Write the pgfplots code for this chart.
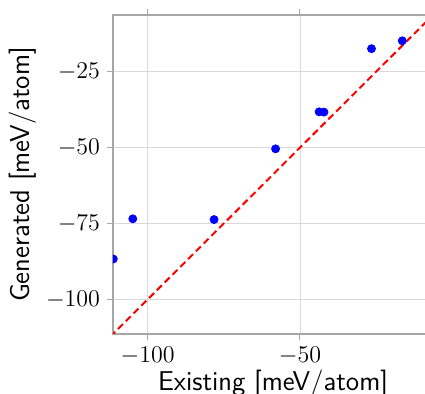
\documentclass[border=0pt]{standalone}
\usepackage{pgfplots}
\pgfplotsset{compat=1.18}
\begin{document}
\begin{tikzpicture}
\begin{axis}[name=ax,
  scale only axis, width=160pt, height=159.5pt,
  xmin=-111.4, xmax=-6.3, ymin=-111.4, ymax=-6.3,
  xtick={-100,-50}, ytick={-100,-75,-50,-25},
  grid=major, grid style={gray!30, line width=0.4pt},
  axis line style={gray!70, line width=0.6pt},
  tick align=outside, tick style={gray!70, line width=0.5pt},
  major tick length=3pt,
  ticklabel style={font=\fontsize{13}{15}\selectfont},
  label style={font=\sffamily\fontsize{13.6}{16}\selectfont},
  xlabel={Existing [meV/atom]}, ylabel={Generated [meV/atom]},
  xlabel style={yshift=4pt}, ylabel style={yshift=-2pt},
  clip marker paths=true,
]
\addplot[red, dashed, line width=1pt, dash pattern=on 3.5pt off 2pt] coordinates {(-120,-120) (0,0)};
\addplot[only marks, mark=*, mark size=2pt, blue, mark options={draw=blue, fill=blue}] coordinates {
(-111.3,-86.7) (-104.9,-73.45) (-78.2,-73.7) (-58.0,-50.4) (-43.7,-38.2) (-42.1,-38.3) (-26.5,-17.4) (-16.4,-14.8)};
\end{axis}
\pgfresetboundingbox
\path[use as bounding box] ([xshift=-56.5pt,yshift=-30pt]ax.south west) rectangle ([xshift=156pt,yshift=7.5pt]ax.north west);
\end{tikzpicture}
\end{document}
